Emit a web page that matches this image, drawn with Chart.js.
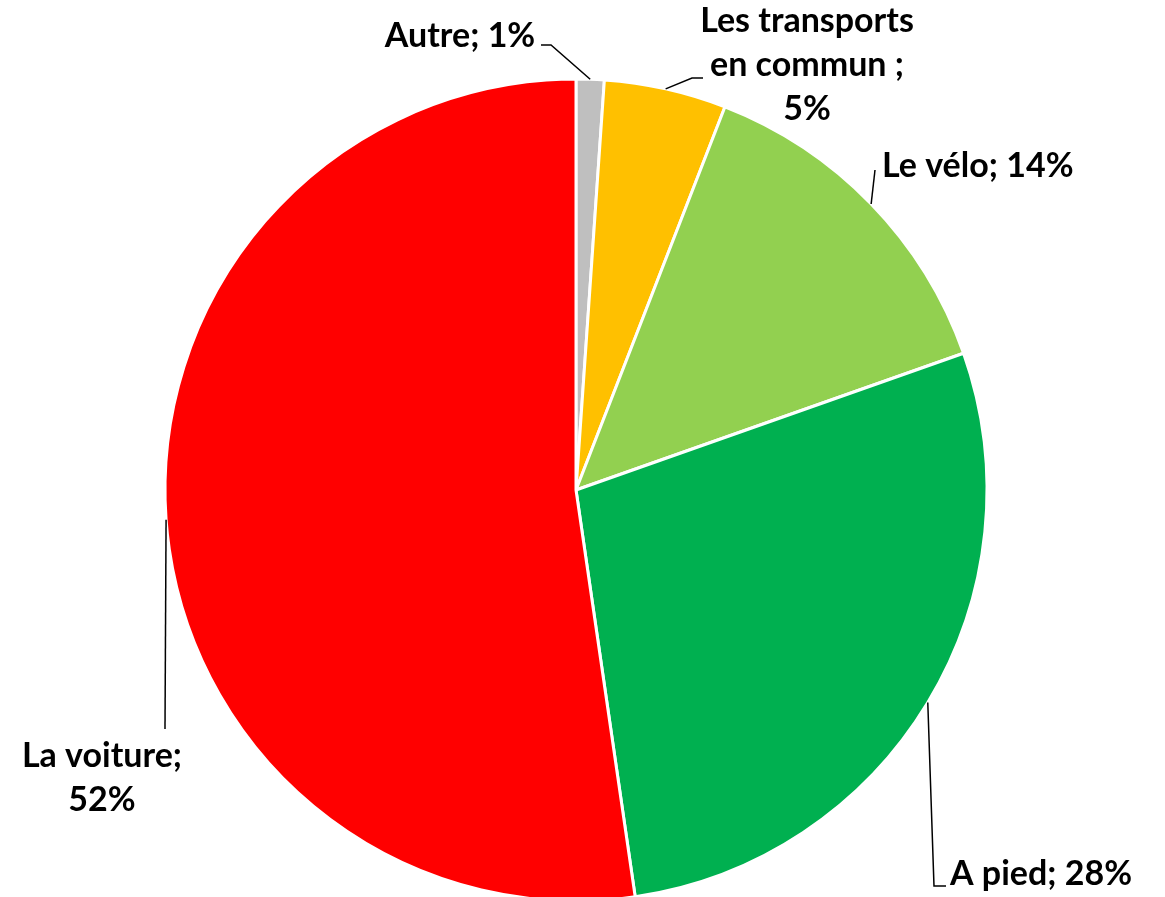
<!DOCTYPE html>
<html>
<head>
<meta charset="utf-8">
<script src="https://cdn.jsdelivr.net/npm/chart.js@4"></script>
<style>
  html, body { margin: 0; padding: 0; background: #fff; overflow: hidden; }
  #wrap { width: 1165px; height: 897px; overflow: hidden; position: relative; }
  #inner { position: absolute; left: 0; top: 0; width: 1165px; height: 920px; }
</style>
</head>
<body>
<div id="wrap"><div id="inner"><canvas id="pie"></canvas></div></div>
<script>
// données
const categories = ["Autre", "Les transports en commun", "Le vélo", "A pied", "La voiture"];
const values = [1.1, 4.8, 13.7, 28.1, 52.3];
const colors = ["#BFBFBF", "#FFC000", "#92D050", "#00B050", "#FF0000"];

// texte des étiquettes (lignes) - le pourcentage est ajouté plus bas
const labelLines = [
    ["Autre; {p}"],
    ["Les transports", "en commun ;", "{p}"],
    ["Le vélo; {p}"],
    ["A pied; {p}"],
    ["La voiture;", "{p}"],
];

// position des étiquettes + coudes des lignes de rappel
const labelLayout = [
    { x: 460, y: 47, align: "center", pts: [[551, 45], [541, 45]] },
    { x: 807, y: 32, align: "center", pts: [[692, 78], [703, 78]] },
    { x: 882, y: 177, align: "left", pts: [[875, 170]] },
    { x: 950, y: 885, align: "left", pts: [[934, 886], [946, 886]] },
    { x: 102, y: 767, align: "center", pts: [[165, 729]] },
];
const lineGap = 44;

const labelPlugin = {
    id: "outLabels",
    afterDraw(chart) {
        const ctx = chart.ctx;
        const meta = chart.getDatasetMeta(0);
        const total = values.reduce((a, b) => a + b, 0);
        ctx.save();
        meta.data.forEach((arc, i) => {
            const mid = (arc.startAngle + arc.endAngle) / 2;
            const sx = arc.x + Math.cos(mid) * arc.outerRadius;
            const sy = arc.y + Math.sin(mid) * arc.outerRadius;
            const lay = labelLayout[i];

            // ligne de rappel
            ctx.strokeStyle = "#000";
            ctx.lineWidth = 1.5;
            ctx.beginPath();
            ctx.moveTo(sx, sy);
            lay.pts.forEach(p => ctx.lineTo(p[0], p[1]));
            ctx.stroke();

            // texte
            const pct = Math.round(values[i] / total * 100) + "%";
            ctx.fillStyle = "#000";
            ctx.font = "bold 34px Lato";
            ctx.textAlign = lay.align;
            ctx.textBaseline = "alphabetic";
            labelLines[i].forEach((l, k) => {
                ctx.fillText(l.replace("{p}", pct), lay.x, lay.y + k * lineGap);
            });
        });
        ctx.restore();
    },
};

new Chart(document.getElementById("pie"), {
    type: "pie",
    data: {
        labels: categories,
        datasets: [{
            data: values,
            backgroundColor: colors,
            borderColor: "#FFFFFF",
            borderWidth: 3,
            radius: 411,
        }],
    },
    options: {
        responsive: true,
        maintainAspectRatio: false,
        animation: false,
        layout: { padding: { left: 156, right: 169, top: 70, bottom: 10 } },
        plugins: {
            legend: { display: false },
            tooltip: { enabled: false },
        },
    },
    plugins: [labelPlugin],
});
</script>
</body>
</html>
